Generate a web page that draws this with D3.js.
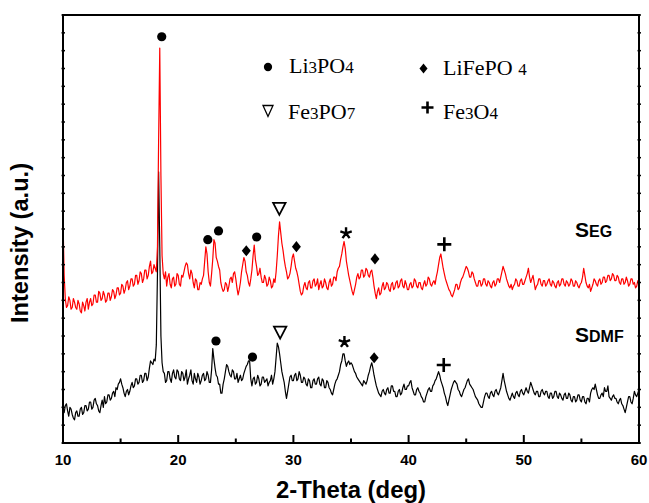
<!DOCTYPE html>
<html>
<head>
<meta charset="utf-8">
<script src="https://cdn.jsdelivr.net/npm/d3@7"></script>
<style>
  body { margin: 0; background: #fff; }
  svg { display: block; }
  .tick-label { font-family: "Liberation Sans", Arial, sans-serif; font-weight: bold; font-size: 15px; }
  .axis-title { font-family: "Liberation Sans", Arial, sans-serif; font-weight: bold; font-size: 23px; }
  .legend-text { font-family: "Liberation Serif", "Times New Roman", serif; font-size: 22px; }
  .series-label { font-family: "Liberation Sans", Arial, sans-serif; font-weight: bold; }
</style>
</head>
<body>
<div class="viz"></div>
<script>
// 2-theta scan: first angle and step (deg)
const scanStart = 10;
const scanStep = 0.1;

// S_EG intensity (a.u.), one row per degree from 10 to 60
const segIntensity = [
  12.6, 9.4, 8.1, 7.6, 7.7, 8.2, 8.0, 7.5, 7.6, 8.1,
  7.9, 7.6, 7.5, 8.0, 7.8, 7.4, 7.3, 7.9, 7.7, 7.4,
  7.9, 8.1, 7.5, 7.9, 8.1, 7.7, 7.8, 8.3, 8.3, 7.9,
  7.9, 8.5, 8.4, 8.0, 8.1, 8.5, 8.3, 7.9, 8.0, 8.4,
  8.4, 8.0, 8.2, 8.6, 8.5, 8.1, 8.3, 8.7, 8.7, 8.3,
  8.4, 8.9, 8.8, 8.4, 8.6, 9.0, 9.1, 8.6, 8.8, 9.2,
  9.2, 8.8, 8.9, 9.4, 9.4, 8.9, 9.1, 9.6, 9.5, 9.0,
  9.2, 9.7, 9.7, 9.2, 9.4, 9.9, 10.2, 9.5, 9.6, 10.0,
  9.8, 9.6, 11.0, 17.0, 22.15, 15.0, 10.5, 9.5, 9.2, 9.6,
  8.8, 9.3, 9.5, 8.9, 8.7, 9.2, 9.3, 8.8, 8.9, 9.5,
  9.4, 8.9, 8.8, 9.4, 9.3, 9.6, 9.9, 10.1, 10.0, 9.5,
  9.2, 9.7, 9.5, 9.0, 8.7, 9.2, 9.1, 8.6, 8.6, 9.0,
  8.9, 9.2, 9.4, 10.2, 11.0, 10.6, 9.6, 9.0, 8.8, 9.5,
  10.3, 11.4, 11.2, 10.4, 10.2, 9.9, 9.7, 9.0, 8.7, 8.5,
  8.6, 9.0, 8.9, 8.5, 8.8, 9.2, 9.3, 9.0, 9.5, 9.6,
  9.2, 8.7, 8.3, 8.6, 9.0, 9.6, 10.0, 10.4, 10.2, 9.6,
  9.4, 9.0, 8.8, 9.2, 9.7, 10.5, 11.1, 10.3, 9.9, 9.4,
  9.5, 9.8, 9.3, 9.0, 9.0, 9.4, 9.2, 8.8, 8.9, 9.3,
  9.1, 8.7, 8.8, 9.2, 9.0, 9.6, 10.5, 11.6, 12.4, 11.8,
  11.2, 10.8, 10.3, 9.9, 9.6, 9.2, 9.3, 9.5, 9.9, 10.4,
  10.6, 10.2, 9.8, 9.6, 9.3, 8.9, 8.5, 8.3, 8.4, 8.8,
  9.0, 8.7, 8.6, 9.0, 9.1, 8.7, 8.7, 9.1, 9.2, 8.8,
  8.9, 9.2, 8.6, 8.9, 9.1, 8.7, 8.8, 9.2, 9.0, 8.7,
  8.6, 9.0, 9.2, 8.8, 8.9, 9.3, 9.3, 9.1, 9.6, 9.8,
  9.9, 10.3, 10.6, 11.0, 11.3, 10.9, 10.2, 9.8, 9.4, 9.1,
  8.8, 8.5, 8.3, 8.6, 8.9, 9.3, 9.5, 9.2, 9.3, 9.7,
  9.7, 9.3, 9.4, 9.8, 9.7, 9.4, 9.3, 9.6, 9.7, 9.3,
  8.8, 8.4, 8.1, 8.5, 8.7, 8.3, 8.4, 8.8, 9.0, 8.6,
  8.7, 9.0, 8.9, 8.6, 8.5, 8.9, 9.0, 8.6, 8.7, 9.0,
  9.1, 8.7, 8.8, 9.1, 9.2, 8.8, 8.7, 9.1, 8.9, 8.6,
  8.6, 8.9, 9.0, 8.7, 8.8, 9.2, 9.1, 8.8, 8.7, 9.0,
  9.0, 8.7, 8.6, 8.9, 9.1, 8.8, 8.9, 9.3, 9.2, 8.9,
  8.8, 9.0, 9.1, 8.9, 9.3, 9.6, 10.0, 10.4, 10.6, 10.2,
  9.8, 9.5, 9.2, 9.0, 8.8, 8.6, 8.5, 8.3, 8.2, 8.4,
  8.6, 8.9, 8.9, 8.6, 8.7, 9.0, 9.2, 9.3, 9.5, 9.7,
  9.9, 9.8, 9.6, 9.3, 9.3, 9.6, 9.5, 9.2, 9.0, 8.8,
  8.8, 9.1, 9.1, 8.8, 8.9, 9.2, 9.2, 8.9, 8.8, 9.1,
  9.0, 8.8, 8.7, 9.0, 9.1, 8.8, 8.9, 9.2, 9.2, 9.0,
  9.3, 9.6, 9.9, 9.7, 9.5, 9.2, 9.0, 8.8, 8.7, 8.9,
  8.6, 8.8, 8.9, 9.2, 9.1, 8.8, 8.8, 9.1, 9.2, 8.9,
  8.9, 9.1, 9.3, 9.5, 9.8, 9.3, 9.0, 9.2, 9.4, 9.0,
  8.6, 8.8, 8.9, 9.2, 9.2, 8.9, 8.8, 9.1, 9.1, 8.8,
  8.9, 9.1, 9.2, 8.9, 8.8, 9.1, 9.0, 8.8, 8.7, 9.0,
  9.1, 8.8, 8.9, 9.2, 9.2, 8.9, 8.8, 9.1, 9.0, 8.8,
  8.9, 9.2, 9.1, 8.8, 8.8, 9.1, 9.0, 8.8, 8.7, 8.9,
  9.0, 9.3, 9.8, 9.4, 9.0, 8.8, 8.7, 8.9, 8.5, 8.7,
  8.9, 9.2, 9.1, 8.9, 8.8, 9.1, 9.2, 8.9, 9.0, 9.3,
  9.3, 9.0, 9.1, 9.4, 9.4, 9.1, 9.2, 9.5, 9.4, 9.1,
  9.1, 9.4, 9.3, 9.0, 8.9, 9.2, 9.2, 8.9, 9.0, 9.3,
  9.1, 8.8, 8.9, 9.2, 9.2, 8.9, 9.0, 8.7, 8.8, 9.1,
  9.0,
];

// S_DMF intensity (a.u.), same steps
const sdmfIntensity = [
  2.0, 1.7, 2.1, 2.2, 1.8, 1.5, 2.0, 1.9, 1.6, 1.4,
  1.3, 1.7, 1.8, 1.5, 1.5, 1.9, 2.0, 1.6, 1.7, 2.1,
  2.1, 1.8, 1.9, 2.3, 2.3, 1.9, 2.0, 2.4, 2.5, 2.2,
  2.1, 1.8, 1.7, 2.1, 2.4, 2.0, 2.6, 2.2, 2.3, 2.7,
  2.7, 2.4, 2.5, 2.8, 2.9, 2.6, 3.1, 3.0, 3.3, 3.4,
  3.6, 3.3, 3.1, 2.8, 2.6, 2.9, 3.0, 2.7, 2.9, 3.2,
  3.4, 3.1, 3.2, 3.6, 3.6, 3.3, 3.4, 3.8, 3.8, 3.4,
  3.5, 3.9, 3.9, 3.5, 3.7, 4.2, 4.6, 4.5, 4.4, 4.7,
  4.6, 5.5, 9.5, 15.2, 11.0, 6.0, 4.5, 4.0, 3.9, 3.4,
  3.5, 4.0, 4.0, 3.6, 3.4, 3.9, 4.1, 3.7, 3.6, 4.1,
  4.0, 3.6, 3.5, 4.0, 3.9, 3.5, 3.7, 4.1, 3.3, 3.6,
  3.8, 4.1, 3.5, 3.3, 3.9, 3.6, 3.4, 3.9, 3.7, 3.3,
  3.5, 3.8, 3.9, 3.5, 3.6, 4.0, 3.8, 3.4, 3.4, 4.1,
  5.3, 4.7, 4.2, 3.8, 3.7, 3.3, 3.3, 2.8, 2.8, 3.3,
  3.6, 4.0, 4.4, 4.3, 4.0, 3.8, 3.7, 4.1, 4.0, 3.6,
  3.6, 3.9, 3.4, 3.6, 3.8, 3.5, 3.6, 3.9, 4.1, 4.3,
  4.4, 4.6, 4.6, 3.6, 3.2, 3.6, 3.7, 3.3, 3.4, 3.8,
  3.6, 3.2, 3.3, 3.7, 3.7, 3.4, 3.5, 3.6, 3.2, 3.4,
  3.5, 3.8, 3.3, 3.6, 4.0, 4.8, 5.6, 5.4, 5.0, 4.5,
  4.0, 3.7, 3.4, 2.9, 2.5, 2.9, 3.3, 3.7, 3.8, 3.5,
  3.5, 3.8, 3.9, 3.5, 3.6, 4.0, 3.8, 3.4, 3.4, 3.7,
  3.6, 3.3, 3.2, 3.6, 3.5, 3.1, 3.1, 3.5, 3.6, 3.3,
  3.3, 3.6, 3.7, 3.3, 3.2, 3.6, 3.5, 3.1, 3.1, 3.5,
  3.4, 3.1, 3.0, 2.8, 2.7, 3.0, 3.3, 3.5, 3.6, 3.8,
  4.0, 4.4, 4.6, 5.0, 5.0, 4.6, 4.3, 4.5, 4.6, 4.4,
  4.5, 4.4, 4.2, 4.0, 3.9, 3.7, 3.6, 3.5, 3.4, 3.3,
  3.2, 3.5, 3.4, 3.3, 3.5, 3.8, 4.0, 4.3, 4.5, 4.2,
  3.8, 3.5, 3.2, 3.0, 2.8, 2.7, 2.6, 2.9, 3.0, 2.8,
  2.7, 3.0, 3.1, 2.8, 2.8, 3.2, 3.2, 2.9, 2.9, 2.6,
  2.6, 2.9, 3.0, 2.7, 2.8, 3.1, 3.3, 3.0, 3.0, 3.2,
  3.2, 3.4, 3.5, 3.1, 2.9, 2.7, 2.7, 3.0, 3.1, 2.9,
  2.8, 2.6, 2.5, 2.3, 2.3, 2.6, 2.8, 3.0, 3.1, 2.9,
  2.9, 3.2, 3.3, 3.5, 3.6, 3.8, 4.0, 3.8, 3.5, 3.3,
  3.1, 2.8, 2.6, 2.3, 2.1, 2.4, 2.7, 3.0, 3.2, 3.4,
  3.5, 3.4, 3.3, 3.0, 2.9, 2.7, 2.6, 2.8, 3.0, 3.1,
  3.3, 3.5, 3.6, 3.3, 3.2, 3.1, 3.0, 2.8, 2.6, 2.5,
  2.4, 2.2, 2.1, 2.0, 2.0, 2.3, 2.6, 2.8, 2.8, 2.6,
  2.5, 2.8, 2.9, 2.7, 2.6, 2.9, 3.0, 2.8, 2.7, 2.9,
  3.1, 3.5, 3.9, 3.5, 3.2, 2.9, 2.7, 2.5, 2.4, 2.6,
  2.8, 2.6, 2.5, 2.8, 2.9, 2.7, 2.6, 2.9, 3.0, 2.8,
  2.7, 2.9, 3.1, 2.9, 2.8, 3.1, 3.4, 3.2, 3.0, 2.8,
  2.7, 2.9, 2.9, 2.6, 2.6, 2.9, 3.0, 2.8, 2.7, 2.9,
  2.9, 2.6, 2.5, 2.8, 2.8, 2.5, 2.6, 2.9, 2.9, 2.6,
  2.5, 2.8, 2.7, 2.5, 2.4, 2.7, 2.8, 2.5, 2.5, 2.8,
  2.7, 2.4, 2.3, 2.6, 2.6, 2.3, 2.4, 2.7, 2.7, 2.4,
  2.3, 2.6, 2.6, 2.3, 2.2, 2.5, 2.5, 2.3, 2.8, 3.0,
  3.1, 3.0, 3.3, 3.0, 2.7, 2.5, 2.5, 2.7, 2.8, 2.6,
  3.1, 2.9, 2.9, 3.2, 2.6, 2.5, 2.4, 2.6, 2.7, 2.5,
  2.5, 2.3, 2.2, 2.4, 2.5, 2.2, 2.1, 1.9, 1.7, 2.0,
  2.3, 2.6, 2.6, 2.3, 2.2, 2.5, 2.9, 2.7, 2.6, 2.8,
  3.0,
];

// phase marks above peaks: [phase, 2-theta, intensity level]
const segMarks = [
  ["Li3PO4", 18.57, 22.78],
  ["Li3PO4", 22.57, 11.4],
  ["Li3PO4", 23.5, 11.89],
  ["LiFePO4", 25.91, 10.78],
  ["Li3PO4", 26.81, 11.55],
  ["Fe3PO7", 28.78, 13.16],
  ["LiFePO4", 30.26, 11.01],
  ["unknown", 34.57, 11.76],
  ["LiFePO4", 37.08, 10.32],
  ["Fe3O4", 43.1, 11.14],
];
const sdmfMarks = [
  ["Li3PO4", 23.28, 5.72],
  ["Li3PO4", 26.45, 4.82],
  ["Fe3PO7", 28.85, 6.22],
  ["unknown", 34.43, 5.66],
  ["LiFePO4", 37.01, 4.78],
  ["Fe3O4", 43.05, 4.37],
];

const legendPhases = ["Li3PO4", "LiFePO4", "Fe3PO7", "Fe3O4"];
const xTicks = [10, 20, 30, 40, 50, 60];
const xMinorTicks = [15, 25, 35, 45, 55];

const totalWidth = 649;
const totalHeight = 503;
const margin = { top: 15, right: 10, bottom: 60, left: 63 };
const width = totalWidth - margin.left - margin.right;
const height = totalHeight - margin.top - margin.bottom;

const svg = d3
  .select(".viz")
  .append("svg")
  .attr("width", totalWidth)
  .attr("height", totalHeight);

svg.append("rect")
  .attr("width", totalWidth)
  .attr("height", totalHeight)
  .attr("fill", "#fff");

const g = svg
  .append("g")
  .attr("transform", `translate(${margin.left},${margin.top})`);

// Scales
const xScale = d3.scaleLinear().domain([10, 60]).range([0, width]);
const yScale = d3.scaleLinear().domain([0, 24]).range([height, 0]);

const toPoints = (values) =>
  values.map((v, i) => [scanStart + i * scanStep, v]);

const line = d3
  .line()
  .x((d) => xScale(d[0]))
  .y((d) => yScale(d[1]));

g.append("path")
  .datum(toPoints(sdmfIntensity))
  .attr("fill", "none")
  .attr("stroke", "#000")
  .attr("stroke-width", 1.2)
  .attr("stroke-linejoin", "round")
  .attr("d", line);

g.append("path")
  .datum(toPoints(segIntensity))
  .attr("fill", "none")
  .attr("stroke", "#ff0000")
  .attr("stroke-width", 1.2)
  .attr("stroke-linejoin", "round")
  .attr("d", line);

// Frame
g.append("rect")
  .attr("x", 0)
  .attr("y", 0)
  .attr("width", width)
  .attr("height", height)
  .attr("fill", "none")
  .attr("stroke", "#000")
  .attr("stroke-width", 2);

// x ticks, pointing inward
g.selectAll(".x-major")
  .data(xTicks)
  .enter()
  .append("line")
  .attr("x1", (d) => xScale(d))
  .attr("x2", (d) => xScale(d))
  .attr("y1", height)
  .attr("y2", height - 8)
  .attr("stroke", "#000")
  .attr("stroke-width", 2);

g.selectAll(".x-minor")
  .data(xMinorTicks)
  .enter()
  .append("line")
  .attr("x1", (d) => xScale(d))
  .attr("x2", (d) => xScale(d))
  .attr("y1", height)
  .attr("y2", height - 4.5)
  .attr("stroke", "#000")
  .attr("stroke-width", 2);

g.selectAll(".x-label")
  .data(xTicks)
  .enter()
  .append("text")
  .attr("class", "tick-label")
  .attr("x", (d) => xScale(d))
  .attr("y", height + 22)
  .attr("text-anchor", "middle")
  .text((d) => d);

// y ticks (no labels) on both sides
const yTicks = d3.range(0, 25);
[0, width].forEach((x0) => {
  g.selectAll(null)
    .data(yTicks)
    .enter()
    .append("line")
    .attr("x1", x0 - 1.5)
    .attr("x2", x0 + 2)
    .attr("y1", (d) => yScale(d))
    .attr("y2", (d) => yScale(d))
    .attr("stroke", "#000")
    .attr("stroke-width", 1.5);
});

// Axis titles
svg.append("text")
  .attr("class", "axis-title")
  .attr("x", margin.left + width / 2)
  .attr("y", 498)
  .attr("text-anchor", "middle")
  .attr("textLength", 150)
  .attr("lengthAdjust", "spacingAndGlyphs")
  .text("2-Theta (deg)");

svg.append("text")
  .attr("class", "axis-title")
  .attr("transform", "translate(28, 243) rotate(-90)")
  .attr("text-anchor", "middle")
  .attr("textLength", 160)
  .attr("lengthAdjust", "spacingAndGlyphs")
  .text("Intensity (a.u.)");

// Phase symbols
function drawMark(sel, phase, x, y, small) {
  const k = small ? 0.9 : 1;
  if (phase === "Li3PO4") {
    sel.append("circle")
      .attr("cx", x)
      .attr("cy", y)
      .attr("r", 4.6 * k)
      .attr("fill", "#000");
  } else if (phase === "LiFePO4") {
    const w = 4.5 * k, h = 5.6 * k;
    sel.append("path")
      .attr("d", `M${x},${y - h}L${x + w},${y}L${x},${y + h}L${x - w},${y}Z`)
      .attr("fill", "#000");
  } else if (phase === "Fe3PO7") {
    const w = small ? 5 : 6.2, h = small ? 6 : 6.5;
    sel.append("path")
      .attr("d", `M${x - w},${y - h + 1}L${x + w},${y - h + 1}L${x},${y + h}Z`)
      .attr("fill", "none")
      .attr("stroke", "#000")
      .attr("stroke-width", small ? 1.3 : 1.8);
  } else if (phase === "Fe3O4") {
    const s = small ? 6 : 7;
    sel.append("path")
      .attr("d", `M${x - s},${y}H${x + s}M${x},${y - s}V${y + s}`)
      .attr("stroke", "#000")
      .attr("stroke-width", 2.6);
  } else {
    // asterisk, five arms
    const r = 6;
    const d = d3.range(5).map((i) => {
      const a = (-90 + i * 72) * Math.PI / 180;
      return `M${x},${y}L${x + r * Math.cos(a)},${y + r * Math.sin(a)}`;
    }).join("");
    sel.append("path")
      .attr("d", d)
      .attr("stroke", "#000")
      .attr("stroke-width", 2.4)
      .attr("stroke-linecap", "butt");
  }
}

segMarks.concat(sdmfMarks).forEach(([phase, deg, level]) => {
  drawMark(g, phase, xScale(deg), yScale(level), false);
});

// text with smaller digits (chemical formulas)
function formulaText(sel, label, x, y, size, subSize) {
  const t = sel.append("text").attr("x", x).attr("y", y);
  label.match(/\d+|\D+/g).forEach((part) => {
    const isNum = /\d/.test(part);
    t.append("tspan")
      .style("font-size", (isNum ? subSize : size) + "px")
      .text(part);
  });
  return t;
}

// Legend
const legendPos = [
  { sx: 268, sy: 67, tx: 289, ty: 73 },
  { sx: 423.5, sy: 68.5, tx: 443, ty: 75 },
  { sx: 268, sy: 110.5, tx: 288, ty: 119 },
  { sx: 427.5, sy: 107.5, tx: 443, ty: 119 },
];
legendPhases.forEach((phase, i) => {
  const p = legendPos[i];
  drawMark(svg, phase, p.sx, p.sy, true);
  formulaText(svg, phase === "LiFePO4" ? "LiFePO 4" : phase, p.tx, p.ty, 22, 17)
    .attr("class", "legend-text");
});

// Series labels
[["EG", 237], ["DMF", 342]].forEach(([sub, y]) => {
  const t = svg.append("text")
    .attr("class", "series-label")
    .attr("x", 575)
    .attr("y", y);
  t.append("tspan").style("font-size", "21px").text("S");
  t.append("tspan").style("font-size", "16px").text(sub);
});
</script>
</body>
</html>
